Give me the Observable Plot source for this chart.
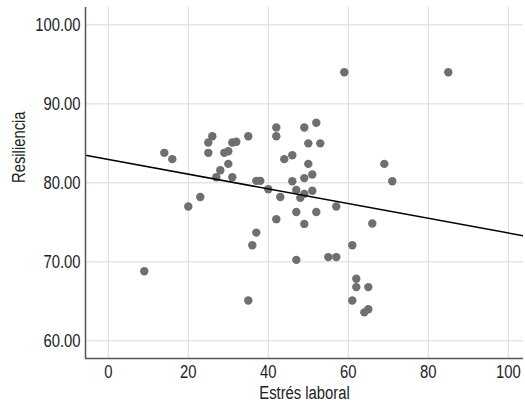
<!DOCTYPE html>
<html>
<head>
<meta charset="utf-8">
<script src="https://cdn.jsdelivr.net/npm/d3@7"></script>
<script src="https://cdn.jsdelivr.net/npm/@observablehq/plot@0.6"></script>
<style>
  html, body { margin: 0; padding: 0; background: #fff; }
  #chart svg { display: block; }
</style>
</head>
<body>
<div id="chart"></div>
<script>
// Estrés laboral (x) and Resiliencia (y)
const estres = [9, 14, 16, 20, 23, 25, 25, 26, 27, 28, 29, 30, 30, 31, 32, 31, 35, 35, 36, 37,
  37, 38, 40, 42, 42, 43, 42, 44, 46, 46, 47, 47, 47, 48, 49, 49, 49, 49, 50, 50,
  51, 51, 52, 52, 53, 55, 57, 57, 59, 61, 61, 62, 62, 64, 65, 65, 66, 69, 71, 85];
const resiliencia = [68.8, 83.8, 83.0, 77.0, 78.2, 85.1, 83.8, 85.9, 80.7, 81.6, 83.8, 84.0, 82.4, 85.1, 85.2, 80.7, 85.9, 65.1, 72.1, 73.7,
  80.25, 80.25, 79.2, 87.0, 85.9, 78.2, 75.4, 83.0, 83.5, 80.2, 79.1, 76.3, 70.25, 78.1, 78.6, 80.6, 74.8, 87.0, 85.0, 82.4,
  81.05, 79.0, 87.6, 76.3, 85.0, 70.6, 70.6, 77.0, 94.0, 72.1, 65.1, 67.85, 66.8, 63.6, 64.0, 66.8, 74.85, 82.4, 80.2, 94.0];
const xTicks = [0, 20, 40, 60, 80, 100];
const yTicks = [60, 70, 80, 90, 100];
const xTitle = "Estrés laboral";
const yTitle = "Resiliencia";

const data = estres.map((x, i) => ({x, y: resiliencia[i]}));
const xDomain = [-5.7, 103.8];
const yDomain = [57.76, 102.2];

// least-squares fit line from the data, drawn across the whole frame
const mx = d3.mean(estres), my = d3.mean(resiliencia);
const slope = d3.sum(data, d => (d.x - mx) * (d.y - my)) / d3.sum(data, d => (d.x - mx) ** 2);
const intercept = my - slope * mx;
const fit = xDomain.map(x => ({x, y: intercept + slope * x}));

const font = "'Liberation Sans', Arial, sans-serif";
const fs = 19;
const narrow = 0.78;

const chart = Plot.plot({
  width: 525,
  height: 409,
  marginLeft: 85,
  marginRight: 2,
  marginTop: 7,
  marginBottom: 51,
  style: {fontFamily: font, fontSize: fs + "px", color: "#222", background: "#fff"},
  x: {domain: xDomain},
  y: {domain: yDomain},
  marks: [
    Plot.gridX(xTicks, {stroke: "#d9d9d9", strokeOpacity: 1, strokeWidth: 1}),
    Plot.gridY(yTicks, {stroke: "#d9d9d9", strokeOpacity: 1, strokeWidth: 1}),
    Plot.dot(data, {x: "x", y: "y", r: 4.2, fill: "#6f6f71", stroke: "none"}),
    Plot.line(fit, {x: "x", y: "y", stroke: "#000", strokeWidth: 1.5, clip: true}),
    Plot.axisX(xTicks, {tickSize: 0, tickPadding: 6, fontSize: fs, label: null}),
    Plot.axisY(yTicks, {tickSize: 0, tickPadding: 5, fontSize: fs, tickFormat: d3.format(".2f"), label: null}),
    Plot.ruleX([xDomain[0]], {stroke: "#555", strokeWidth: 1.5}),
    Plot.ruleY([yDomain[0]], {stroke: "#555", strokeWidth: 1.5}),
    Plot.text([xTitle], {frameAnchor: "bottom", dy: 40, fontSize: fs, fill: "#222"}),
    Plot.text([yTitle], {frameAnchor: "left", dx: -67, rotate: -90, fontSize: fs, fill: "#222"})
  ]
});
document.getElementById("chart").appendChild(chart);

// narrow the glyphs (about their anchor point) to resemble the condensed face of the original
chart.querySelectorAll("text").forEach(t => {
  const x = parseFloat(t.getAttribute("x")) || 0;
  const prev = t.getAttribute("transform") || "";
  t.setAttribute("transform", `${prev} translate(${x},0) scale(${narrow},1) translate(${-x},0)`.trim());
});
</script>
</body>
</html>
